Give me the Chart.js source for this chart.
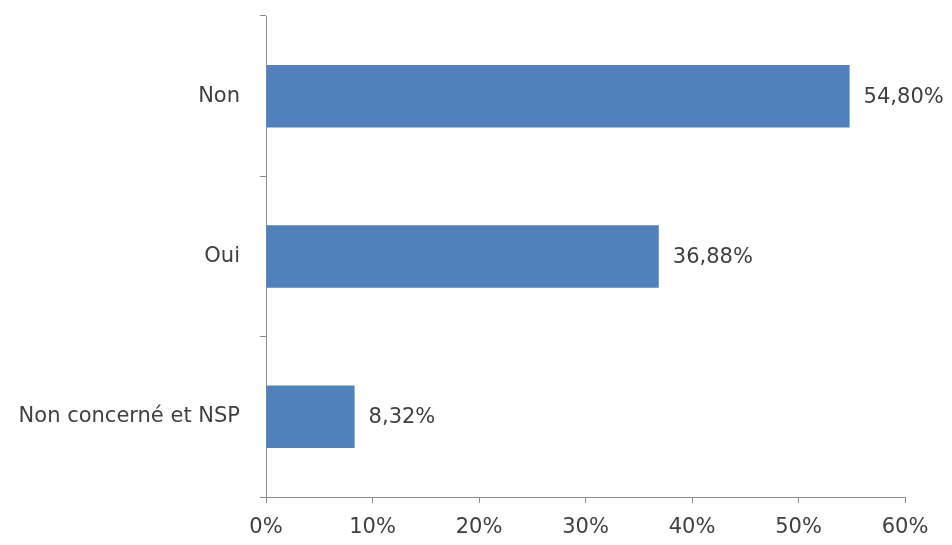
<!DOCTYPE html>
<html lang="fr">
<head>
    <meta charset="UTF-8">
    <title>Répartition des réponses</title>
    <script src="https://cdn.jsdelivr.net/npm/chart.js"></script>
    <style>
        html, body {
            margin: 0;
            padding: 0;
            background: #ffffff;
        }
        .container {
            width: 952px;
            height: 545px;
        }
    </style>
</head>
<body>
    <div class="container">
        <canvas id="myChart" width="952" height="545"></canvas>
    </div>
    <script>
        // donnees du graphique
        var categories = ['Non', 'Oui', 'Non concerné et NSP'];
        var pourcentages = [54.80, 36.88, 8.32];
        var ticksX = [0, 10, 20, 30, 40, 50, 60];

        var axisColor = '#8c8c8c';
        var textColor = '#404040';
        var police = '"DejaVu Sans", sans-serif';

        // etiquettes de valeurs au bout des barres
        var valueLabels = {
            id: 'valueLabels',
            afterDatasetsDraw: function(chart) {
                var ctx = chart.ctx;
                var meta = chart.getDatasetMeta(0);
                ctx.save();
                ctx.font = '21px ' + police;
                ctx.fillStyle = textColor;
                ctx.textAlign = 'left';
                ctx.textBaseline = 'middle';
                meta.data.forEach(function(bar, i) {
                    var txt = pourcentages[i].toFixed(2).replace('.', ',') + '%';
                    ctx.fillText(txt, bar.x + 14, bar.y + 1);
                });
                ctx.restore();
            }
        };

        var ctx = document.getElementById('myChart').getContext('2d');
        var myChart = new Chart(ctx, {
            type: 'bar',
            data: {
                labels: categories,
                datasets: [{
                    data: pourcentages,
                    backgroundColor: '#4f81bd',
                    borderWidth: 0,
                    categoryPercentage: 1,
                    barPercentage: 0.39
                }]
            },
            options: {
                indexAxis: 'y',
                responsive: false,
                animation: false,
                layout: {
                    padding: { top: 16, right: 47, left: 0, bottom: 0 }
                },
                plugins: {
                    legend: { display: false },
                    tooltip: { enabled: false }
                },
                scales: {
                    x: {
                        min: 0,
                        max: 60,
                        afterBuildTicks: function(scale) {
                            scale.ticks = ticksX.map(function(v) { return { value: v }; });
                        },
                        afterFit: function(scale) {
                            scale.height = 48;
                        },
                        border: { color: axisColor, width: 1 },
                        grid: {
                            drawOnChartArea: false,
                            tickLength: 6,
                            color: axisColor
                        },
                        ticks: {
                            padding: 12,
                            color: textColor,
                            font: { family: police, size: 21 },
                            callback: function(v) { return v + '%'; }
                        }
                    },
                    y: {
                        afterFit: function(scale) {
                            scale.width = 266;
                            scale.paddingTop = 0;
                            scale.paddingBottom = 0;
                        },
                        border: { color: axisColor, width: 1 },
                        grid: {
                            offset: true,
                            drawOnChartArea: false,
                            tickLength: 6,
                            color: axisColor
                        },
                        ticks: {
                            padding: 20,
                            color: textColor,
                            font: { family: police, size: 21 }
                        }
                    }
                }
            },
            plugins: [valueLabels]
        });
    </script>
</body>
</html>
